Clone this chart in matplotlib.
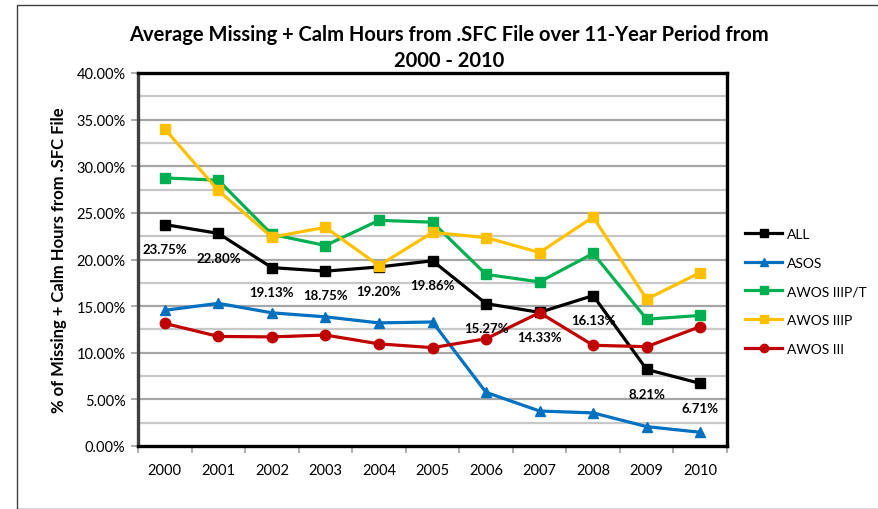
import matplotlib
matplotlib.use("Agg")
import matplotlib.pyplot as plt
from matplotlib.patches import Rectangle
from matplotlib.ticker import FixedLocator, FuncFormatter

plt.rcParams['font.family'] = ['Lato', 'DejaVu Sans']

years = ["2000", "2001", "2002", "2003", "2004", "2005", "2006", "2007", "2008", "2009", "2010"]
all_vals = [23.75, 22.80, 19.13, 18.75, 19.20, 19.86, 15.27, 14.33, 16.13, 8.21, 6.71]
asos = [14.55, 15.30, 14.28, 13.85, 13.20, 13.30, 5.75, 3.75, 3.55, 2.08, 1.47]
awos_iiipt = [28.75, 28.50, 22.70, 21.50, 24.20, 24.00, 18.40, 17.60, 20.65, 13.60, 14.00]
awos_iiip = [34.00, 27.40, 22.40, 23.45, 19.35, 22.90, 22.35, 20.75, 24.55, 15.75, 18.60]
awos_iii = [13.15, 11.75, 11.70, 11.90, 10.95, 10.55, 11.50, 14.30, 10.80, 10.65, 12.80]

series = [
    ("ALL", all_vals, "#000000", "s"),
    ("ASOS", asos, "#0070C0", "^"),
    ("AWOS IIIP/T", awos_iiipt, "#00B050", "s"),
    ("AWOS IIIP", awos_iiip, "#FFC000", "s"),
    ("AWOS III", awos_iii, "#C00000", "o"),
]

fig = plt.figure(figsize=(8.79, 5.10), dpi=100)
ax = fig.add_axes([138/879, 1-447/510, (727-138)/879, (447-74)/510])

x = list(range(len(years)))
for i, (name, vals, col, mk) in enumerate(series):
    ms = 7.5 if mk in ("o", "^") else 7
    ax.plot(x, vals, color=col, lw=2.3, marker=mk, markersize=ms,
            markerfacecolor=col, markeredgecolor=col, label=name, zorder=3+i,
            solid_joinstyle='round')

for xi, v in zip(x, all_vals):
    ax.annotate(f"{v:.2f}%", (xi, v), xytext=(0, -17.5), textcoords='offset points',
                ha='center', va='center', fontsize=9.5, fontweight='bold', zorder=20)

ax.set_xlim(-0.5, len(years)-0.5)
ax.set_ylim(0, 40)

for g in [i*2.5 for i in range(1, 16)]:
    major = (round(g*10) % 50 == 0)
    ax.axhline(g, color='#a6a6a6' if major else '#c8c8c8', lw=1.6, zorder=1)

ax.yaxis.set_major_locator(FixedLocator([i*5 for i in range(9)]))
ax.yaxis.set_major_formatter(FuncFormatter(lambda v, p: f"{v:.2f}%"))
ax.set_xticks(x)
ax.set_xticklabels(years)
ax.xaxis.set_minor_locator(FixedLocator([i-0.5 for i in range(len(years)+1)]))
ax.tick_params(axis='x', which='major', length=0, pad=12, labelsize=10.5)
ax.tick_params(axis='x', which='minor', length=5, color='#a0a0a0', width=1.2)
ax.tick_params(axis='y', which='major', length=5, color='#a0a0a0', width=1.2, pad=4, labelsize=10.5)

for s in ['top', 'right', 'bottom']:
    ax.spines[s].set_color('#000000')
    ax.spines[s].set_linewidth(2.4)
ax.spines['left'].set_color('#404040')
ax.spines['left'].set_linewidth(2.4)
for s in ax.spines.values():
    s.set_zorder(25)

ax.set_ylabel("% of Missing + Calm Hours from .SFC File", fontsize=12, fontweight='bold', labelpad=7)

fig.text(449/879, 1-35/510, "Average Missing + Calm Hours from .SFC File over 11-Year Period from",
         ha='center', va='center', fontsize=14.5, fontweight='bold')
fig.text(449/879, 1-61/510, "2000 - 2010", ha='center', va='center', fontsize=14.5, fontweight='bold')

leg = ax.legend(loc='upper left', bbox_to_anchor=(745/879, 1-229/510), bbox_transform=fig.transFigure,
                frameon=False, fontsize=10, handlelength=2.7, handletextpad=0.3, labelspacing=1.2,
                borderaxespad=0, borderpad=0)
for h in leg.get_lines():
    h.set_markersize(6)

fig.patches.append(Rectangle((17/879, 0), 1.2, 1-6/510, transform=fig.transFigure,
                             fill=False, edgecolor='#404040', lw=1.0, figure=fig))

fig.savefig("out.png", dpi=100)
